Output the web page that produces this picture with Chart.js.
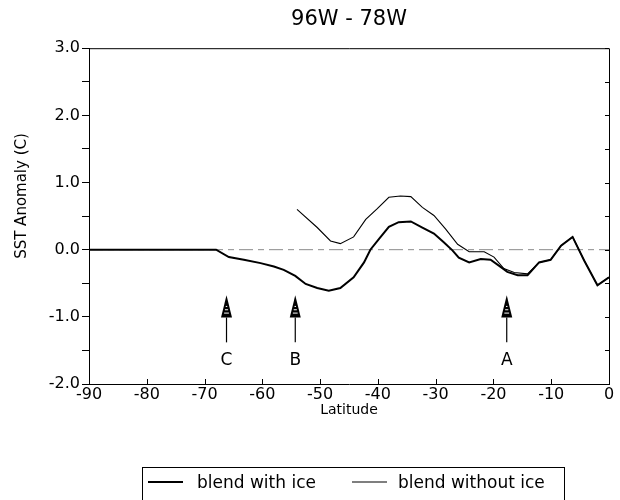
<!DOCTYPE html>
<html><head><meta charset="utf-8">
<script src="https://cdn.jsdelivr.net/npm/chart.js@4/dist/chart.umd.min.js"></script>
<style>html,body{margin:0;padding:0;background:#fff}canvas{display:block}</style>
</head><body><canvas id="c" width="620" height="500"></canvas>
<script>
// ---- data ----
const latWithIce = [-90,-85,-80,-75,-70,-68,-65.8,-63.2,-60.3,-58,-56.3,-54.3,-52.5,-50.5,-48.5,-46.5,-44.2,-42.4,-41.3,-39.8,-38.1,-36.4,-34.3,-32.3,-30.3,-28.6,-27.1,-26.0,-24.2,-22.2,-20.5,-18.7,-17.6,-15.8,-14.1,-12.1,-10.1,-8.3,-6.3,-4.3,-2.0,0];
const sstWithIce = [0,0,0,0,0,0,-0.11,-0.15,-0.20,-0.25,-0.30,-0.39,-0.51,-0.57,-0.61,-0.57,-0.41,-0.19,0.0,0.16,0.34,0.41,0.42,0.33,0.24,0.11,-0.01,-0.12,-0.19,-0.14,-0.15,-0.26,-0.33,-0.38,-0.38,-0.19,-0.15,0.06,0.19,-0.16,-0.53,-0.41];
const latWithoutIce = [-54.0,-50.5,-48.2,-46.5,-44.2,-42.1,-40.1,-38.1,-36.1,-34.3,-32.3,-30.3,-28.3,-26.2,-24.2,-21.6,-19.9,-18.2,-16.4,-14.1,-12.1,-10.1,-8.3,-6.3,-4.3,-2.0,0];
const sstWithoutIce = [0.60,0.33,0.13,0.09,0.19,0.45,0.61,0.78,0.80,0.79,0.63,0.51,0.31,0.08,-0.03,-0.03,-0.11,-0.28,-0.34,-0.36,-0.19,-0.15,0.06,0.19,-0.16,-0.53,-0.41];
const seriesLabels = ['blend with ice', 'blend without ice'];
const chartTitle = '96W - 78W';
const xTitle = 'Latitude';
const yTitle = 'SST Anomaly (C)';
const xRange = [-90, 0];
const xStep = 10;
const yRange = [-2, 3];
const yMinorStep = 0.5;
const markerLat = [-66.2, -54.3, -17.7];
const markerLabels = ['C', 'B', 'A'];
const markerTip = -0.68, markerBase = -1.01, markerTail = -1.38, markerTextAt = -1.65;

const FONT = 'DejaVu Sans';
const toPts = (xs, ys) => xs.map((x, i) => ({x, y: ys[i]}));

const decor = {
  id: 'decor',
  beforeDatasetsDraw(chart) {
    const {ctx, chartArea: a, scales: {y}} = chart;
    const py = y.getPixelForValue(0);
    ctx.save();
    ctx.strokeStyle = '#8a8a8a';
    ctx.lineWidth = 1;
    ctx.setLineDash([14, 5, 6, 5]);
    ctx.beginPath(); ctx.moveTo(a.left, py); ctx.lineTo(a.right, py); ctx.stroke();
    ctx.restore();
  },
  afterDraw(chart) {
    const {ctx, chartArea: a, scales: {x, y}} = chart;
    ctx.save();
    ctx.strokeStyle = '#000'; ctx.lineWidth = 1;
    // frame top & right
    ctx.beginPath();
    ctx.moveTo(a.left, a.top + 0.5); ctx.lineTo(a.right + 0.5, a.top + 0.5); ctx.lineTo(a.right + 0.5, a.bottom);
    ctx.stroke();
    // inner ticks on bottom
    for (let v = xRange[0]; v <= xRange[1]; v += xStep) {
      const px = Math.round(x.getPixelForValue(v)) + 0.5;
      ctx.beginPath(); ctx.moveTo(px, a.bottom); ctx.lineTo(px, a.bottom - 5); ctx.stroke();
    }
    // inner ticks on right
    for (let v = yRange[0]; v <= yRange[1] + 1e-9; v += yMinorStep) {
      const py = Math.round(y.getPixelForValue(v)) + 0.5;
      ctx.beginPath(); ctx.moveTo(a.right, py); ctx.lineTo(a.right - 4, py); ctx.stroke();
    }
    // y axis title
    ctx.save();
    ctx.translate(22, 196);
    ctx.rotate(-Math.PI / 2);
    ctx.fillStyle = '#000';
    ctx.font = '15px "' + FONT + '"';
    ctx.textAlign = 'center'; ctx.textBaseline = 'middle';
    ctx.fillText(yTitle, 0, 0);
    ctx.restore();
    // arrows
    markerLat.forEach((lat, i) => {
      const px = x.getPixelForValue(lat);
      const tip = y.getPixelForValue(markerTip);
      const base = y.getPixelForValue(markerBase);
      const tail = y.getPixelForValue(markerTail);
      ctx.fillStyle = '#000';
      ctx.beginPath();
      ctx.moveTo(px, tip); ctx.lineTo(px - 5.5, base); ctx.lineTo(px + 5.5, base); ctx.closePath();
      ctx.fill();
      ctx.strokeStyle = '#fff'; ctx.lineWidth = 1;
      for (let k = 1; k <= 3; k++) {
        const yy = tip + (base - tip) * (0.35 + k * 0.15);
        const half = 5.5 * (yy - tip) / (base - tip) - 2;
        ctx.beginPath(); ctx.moveTo(px - half, yy); ctx.lineTo(px + half, yy); ctx.stroke();
      }
      ctx.strokeStyle = '#000'; ctx.lineWidth = 1.2;
      ctx.beginPath(); ctx.moveTo(px, base); ctx.lineTo(px, tail); ctx.stroke();
      ctx.fillStyle = '#000';
      ctx.font = '17px "' + FONT + '"';
      ctx.textAlign = 'center'; ctx.textBaseline = 'middle';
      ctx.fillText(markerLabels[i], px, y.getPixelForValue(markerTextAt));
    });
    // legend box
    ctx.strokeStyle = '#000'; ctx.lineWidth = 1;
    ctx.strokeRect(142.5, 467.5, 422, 50);
    const items = [
      {x0: 148, x1: 183, tx: 197},
      {x0: 352, x1: 387, tx: 398}
    ];
    ctx.font = '17px "' + FONT + '"';
    ctx.textAlign = 'left'; ctx.textBaseline = 'alphabetic';
    chart.data.datasets.forEach((ds, i) => {
      const it = items[i];
      ctx.strokeStyle = ds.borderColor; ctx.lineWidth = ds.borderWidth;
      ctx.beginPath(); ctx.moveTo(it.x0, 482); ctx.lineTo(it.x1, 482); ctx.stroke();
      ctx.fillStyle = '#000';
      ctx.fillText(ds.label, it.tx, 488);
    });
    ctx.restore();
  }
};

new Chart(document.getElementById('c'), {
  type: 'scatter',
  data: {
    datasets: [
      {label: seriesLabels[0], data: toPts(latWithIce, sstWithIce), showLine: true, borderColor: '#000', borderWidth: 2, pointRadius: 0, tension: 0, order: 1},
      {label: seriesLabels[1], data: toPts(latWithoutIce, sstWithoutIce), showLine: true, borderColor: '#000', borderWidth: 1.1, pointRadius: 0, tension: 0, order: 2}
    ]
  },
  options: {
    responsive: false,
    animation: false,
    devicePixelRatio: 1,
    layout: {padding: {left: 0, right: 11, top: 0, bottom: 80}},
    plugins: {
      legend: {display: false},
      tooltip: {enabled: false},
      title: {display: true, text: chartTitle, fullSize: false, color: '#000',
        font: {family: FONT, size: 21, weight: 'normal'}, padding: {top: 7, bottom: 16}}
    },
    scales: {
      x: {
        type: 'linear', min: xRange[0], max: xRange[1],
        afterFit: s => { s.height = 36; },
        ticks: {stepSize: xStep, color: '#000', padding: 1, maxRotation: 0, font: {family: FONT, size: 16}, callback: v => String(v)},
        grid: {display: true, drawOnChartArea: false, drawTicks: false},
        border: {color: '#000', width: 1},
        title: {display: true, text: xTitle, color: '#000', font: {family: FONT, size: 14}, padding: {top: 0, bottom: 1}}
      },
      y: {
        type: 'linear', min: yRange[0], max: yRange[1],
        afterFit: s => { s.width = 89; },
        ticks: {stepSize: yMinorStep, color: '#000', padding: 2, font: {family: FONT, size: 16},
          callback: v => Number.isInteger(v) ? v.toFixed(1) : ''},
        grid: {display: true, drawOnChartArea: false, drawTicks: true, tickLength: 7, tickColor: '#000'},
        border: {color: '#000', width: 1},
        title: {display: false}
      }
    }
  },
  plugins: [decor]
});
</script>
</body></html>
